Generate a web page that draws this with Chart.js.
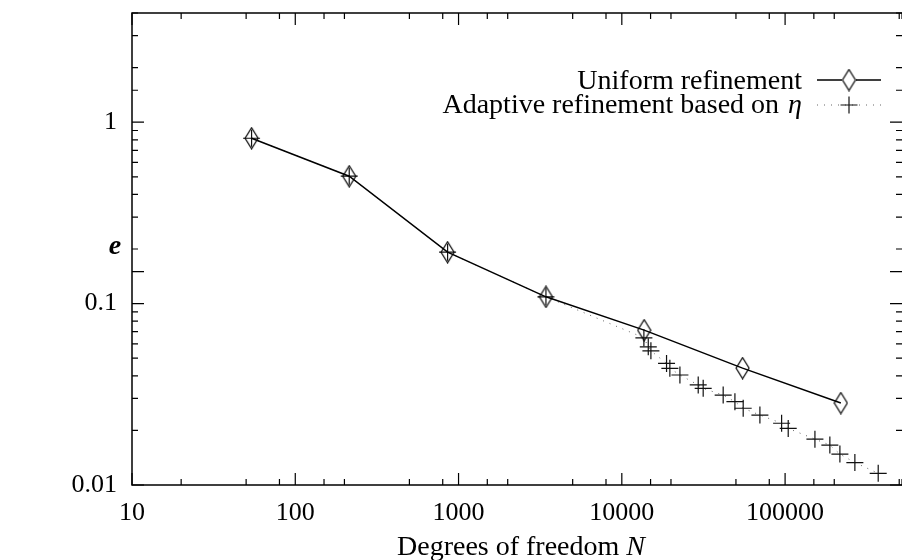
<!DOCTYPE html>
<html>
<head>
<meta charset="utf-8">
<script src="https://cdn.jsdelivr.net/npm/chart.js@4.4.1/dist/chart.umd.min.js"></script>
<style>
    html, body { margin: 0; padding: 0; background: #fff; }
</style>
</head>
<body>
<canvas id="myChart" width="902" height="560"></canvas>
<script>
// values
const uniformN = [54, 214, 857, 3430, 13700, 54900, 219500];
const uniformE = [0.816, 0.504, 0.192, 0.109, 0.0714, 0.0441, 0.0283];

const adaptiveN = [54, 214, 857, 3430, 13650, 14520, 15070, 18790, 19690, 22690, 29370,
                   31500, 41760, 49280, 55380, 70100, 95200, 104500, 152300, 188000,
                   216600, 267500, 371800];
const adaptiveE = [0.816, 0.504, 0.192, 0.109, 0.0648, 0.0578, 0.0549, 0.0468, 0.0440,
                   0.0404, 0.0356, 0.0341, 0.0313, 0.0288, 0.0265, 0.0243, 0.0219, 0.0205,
                   0.0179, 0.0166, 0.0148, 0.0133, 0.0116];

const xRange = [10, 520000];
const yRange = [0.01, 4];
const seriesLabels = ['Uniform refinement', 'Adaptive refinement based on '];
const xTitle = 'Degrees of freedom ';

const SERIF = '"Liberation Serif", "DejaVu Serif", serif';

function toPoints(xs, ys)
{
    return xs.map((x, i) => ({x: x, y: ys[i]}));
}

function mantissa(v)
{
    const e = Math.floor(Math.log10(v) + 1e-9);
    return Math.round(v / Math.pow(10, e));
}

function isDecade(v)
{
    const l = Math.log10(v);
    return Math.abs(l - Math.round(l)) < 1e-6;
}

// tall open diamond, like the gnuplot one
function makeDiamond(w, h)
{
    const c = document.createElement('canvas');
    c.width = w; c.height = h;
    const g = c.getContext('2d');
    g.strokeStyle = '#000';
    g.lineWidth = 1.2;
    g.beginPath();
    g.moveTo(w / 2, 1);
    g.lineTo(w - 1, h / 2);
    g.lineTo(w / 2, h - 1);
    g.lineTo(1, h / 2);
    g.closePath();
    g.stroke();
    return c;
}

const diamond = makeDiamond(15, 23);

function drawCross(ctx, x, y, r)
{
    ctx.beginPath();
    ctx.moveTo(x - r, y); ctx.lineTo(x + r, y);
    ctx.moveTo(x, y - r); ctx.lineTo(x, y + r);
    ctx.stroke();
}

// frame, inward ticks, legend and axis titles
const decorations =
{
    id: 'decorations',
    afterDraw(chart)
    {
        const ctx = chart.ctx;
        const a = chart.chartArea;
        const xs = chart.scales.x, ys = chart.scales.y;

        ctx.save();
        ctx.strokeStyle = '#000';
        ctx.lineWidth = 1.5;
        ctx.beginPath();
        ctx.moveTo(a.right, a.top); ctx.lineTo(a.left, a.top);
        ctx.lineTo(a.left, a.bottom); ctx.lineTo(a.right, a.bottom);
        ctx.stroke();

        ctx.lineWidth = 1.2;
        ctx.beginPath();
        xs.ticks.forEach(t =>
        {
            const m = mantissa(t.value);
            let len = 0;
            if (m === 1) len = 12;
            else if (m === 2 || m === 5 || m === 8) len = 6;
            if (!len) return;
            const px = xs.getPixelForValue(t.value);
            ctx.moveTo(px, a.bottom); ctx.lineTo(px, a.bottom - len);
            ctx.moveTo(px, a.top); ctx.lineTo(px, a.top + len);
        });
        ys.ticks.forEach(t =>
        {
            const m = mantissa(t.value);
            const len = m === 1 ? 12 : 6;
            const py = ys.getPixelForValue(t.value);
            ctx.moveTo(a.left, py); ctx.lineTo(a.left + len, py);
            ctx.moveTo(a.right, py); ctx.lineTo(a.right - len, py);
        });
        ctx.stroke();

        // legend
        ctx.fillStyle = '#000';
        ctx.font = '28px ' + SERIF;
        ctx.textAlign = 'right';
        ctx.textBaseline = 'alphabetic';
        const textRight = 802;
        ctx.fillText(seriesLabels[0], textRight, 89);

        ctx.font = 'italic 28px ' + SERIF;
        const etaW = ctx.measureText('\u03b7').width;
        ctx.fillText('\u03b7', textRight, 113);
        ctx.font = '28px ' + SERIF;
        ctx.fillText(seriesLabels[1], textRight - etaW - 2, 113);

        // legend samples
        ctx.strokeStyle = '#000';
        ctx.lineWidth = 1.5;
        ctx.beginPath();
        ctx.moveTo(817, 80); ctx.lineTo(842, 80);
        ctx.moveTo(856, 80); ctx.lineTo(881, 80);
        ctx.stroke();
        ctx.drawImage(diamond, 849 - diamond.width / 2, 80 - diamond.height / 2);

        ctx.strokeStyle = '#666';
        ctx.lineWidth = 1;
        ctx.setLineDash([1, 6]);
        ctx.beginPath();
        ctx.moveTo(817, 105); ctx.lineTo(881, 105);
        ctx.stroke();
        ctx.setLineDash([]);
        ctx.strokeStyle = '#111';
        ctx.lineWidth = 1.2;
        drawCross(ctx, 849, 105, 8.5);

        // x title with italic N
        ctx.font = '28px ' + SERIF;
        const w1 = ctx.measureText(xTitle).width;
        ctx.font = 'italic 28px ' + SERIF;
        const w2 = ctx.measureText('N').width;
        const x0 = 521 - (w1 + w2) / 2;
        ctx.textAlign = 'left';
        ctx.font = '28px ' + SERIF;
        ctx.fillText(xTitle, x0, 555);
        ctx.font = 'italic 28px ' + SERIF;
        ctx.fillText('N', x0 + w1, 555);

        // y title
        ctx.font = 'italic bold 28px ' + SERIF;
        ctx.textAlign = 'center';
        ctx.fillText('e', 115, 254);
        ctx.restore();
    }
};

let myChart = document.getElementById('myChart').getContext('2d');

let chart_1 = new Chart(myChart,
{
    type: 'line',
    data:
    {
        datasets:
        [{
            label: seriesLabels[0],
            data: toPoints(uniformN, uniformE),
            borderColor: '#000',
            borderWidth: 1.5,
            pointStyle: diamond,
            pointRadius: 8,
            tension: 0
        },
        {
            label: seriesLabels[1],
            data: toPoints(adaptiveN, adaptiveE),
            borderColor: '#666',
            borderWidth: 1,
            borderDash: [1, 6],
            pointStyle: 'cross',
            pointRadius: 8.5,
            pointBorderColor: '#111',
            pointBorderWidth: 1.2,
            pointBackgroundColor: 'rgba(0,0,0,0)',
            tension: 0
        }]
    },
    options:
    {
        responsive: false,
        animation: false,
        events: [],
        layout: {autoPadding: false, padding: {top: 13, right: 0, left: 0, bottom: 0}},
        plugins:
        {
            legend: {display: false},
            tooltip: {enabled: false}
        },
        scales:
        {
            x:
            {
                type: 'logarithmic',
                min: xRange[0],
                max: xRange[1],
                grid: {display: false, drawTicks: false},
                border: {display: false},
                afterFit: (scale) =>
                {
                    scale.height = 75;
                    scale.paddingLeft = 0;
                    scale.paddingRight = 0;
                },
                ticks:
                {
                    autoSkip: false,
                    maxRotation: 0,
                    padding: 13,
                    color: '#000',
                    font: {family: SERIF, size: 26},
                    callback: (v) => isDecade(v) ? String(v) : ''
                }
            },
            y:
            {
                type: 'logarithmic',
                min: yRange[0],
                max: yRange[1],
                grid: {display: false, drawTicks: false},
                border: {display: false},
                afterFit: (scale) =>
                {
                    scale.width = 132;
                    scale.paddingTop = 0;
                    scale.paddingBottom = 0;
                },
                ticks:
                {
                    autoSkip: false,
                    padding: 15,
                    color: '#000',
                    font: {family: SERIF, size: 26},
                    callback: (v) => isDecade(v) ? String(v) : ''
                }
            }
        }
    },
    plugins: [decorations]
});
</script>
</body>
</html>
